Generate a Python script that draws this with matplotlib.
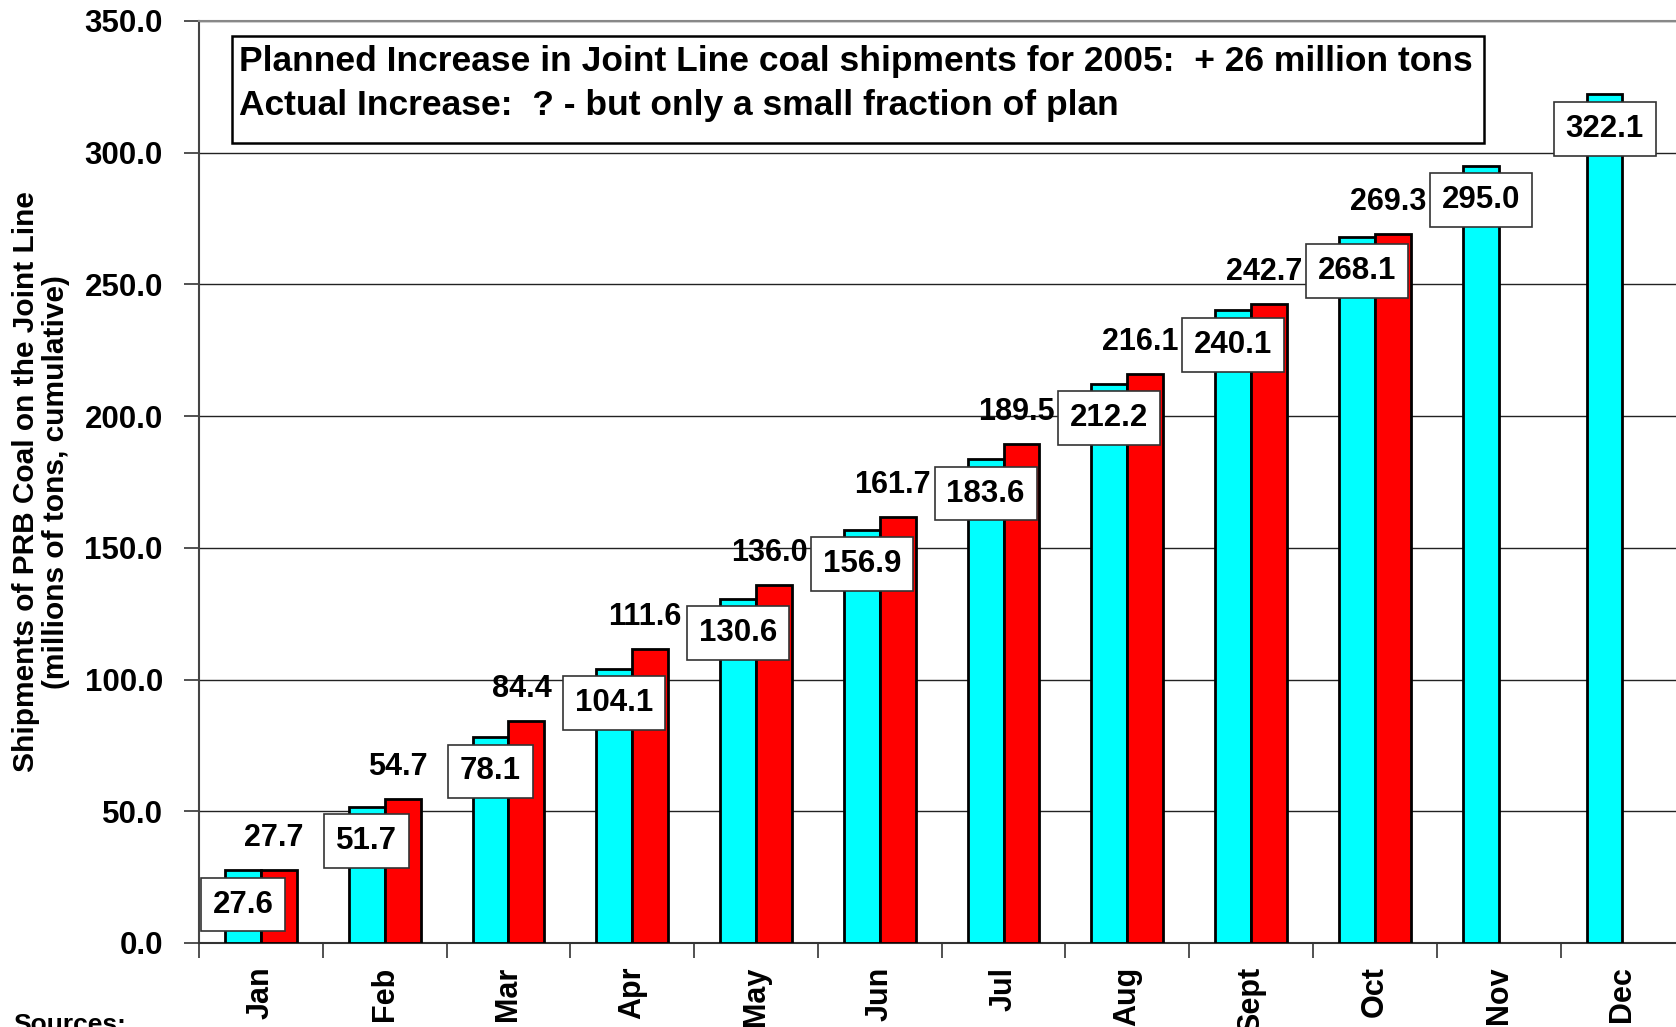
import matplotlib
matplotlib.use('Agg')
import matplotlib.pyplot as plt
import numpy as np

plt.rcParams['font.family'] = ['Liberation Sans', 'DejaVu Sans']
plt.rcParams['font.weight'] = 'bold'

# Data
months = ['Jan', 'Feb', 'Mar', 'Apr', 'May', 'Jun', 'Jul', 'Aug', 'Sept', 'Oct', 'Nov', 'Dec']
shipments_2004 = [27.6, 51.7, 78.1, 104.1, 130.6, 156.9, 183.6, 212.2, 240.1, 268.1, 295.0, 322.1]
shipments_2005 = [27.7, 54.7, 84.4, 111.6, 136.0, 161.7, 189.5, 216.1, 242.7, 269.3]
note_lines = ['Planned Increase in Joint Line coal shipments for 2005:  + 26 million tons',
              'Actual Increase:  ? - but only a small fraction of plan']

fig = plt.figure(figsize=(16.76, 10.27), dpi=100)
ax = fig.add_axes([0.1187, 0.0818, 0.8863, 0.8978])

x = np.arange(len(months))
w = 0.29

ax.bar(x - w / 2, shipments_2004, width=w, color='#00FFFF', edgecolor='black', linewidth=2, zorder=3)
x2 = x[:len(shipments_2005)]
ax.bar(x2 + w / 2, shipments_2005, width=w, color='#FF0000', edgecolor='black', linewidth=2, zorder=3)

# Labels for cyan bars (boxed)
for xi, v in zip(x, shipments_2004):
    ax.text(xi - w / 2, v - 13.0, f'{v:.1f}', ha='center', va='center', fontsize=22.5,
            fontweight='bold', zorder=5,
            bbox=dict(boxstyle='square,pad=0.38', facecolor='white', edgecolor='#333333', linewidth=1.2))

# Labels for red bars
for xi, v in zip(x2, shipments_2005):
    ax.text(xi + w / 2 - 0.04, v + 12.0, f'{v:.1f}', ha='center', va='center', fontsize=22,
            fontweight='bold', zorder=4)

ax.set_xlim(-0.5, len(months) - 0.5)
ax.set_ylim(0, 350)
ax.set_yticks(np.arange(0, 351, 50))
ax.set_yticklabels([f'{t:.1f}' for t in np.arange(0, 351, 50)], fontsize=22.5, fontweight='bold')
ax.yaxis.grid(True, color='#222222', linewidth=1.0, zorder=0)

ax.set_xticks(x)
ax.set_xticklabels(months, rotation=90, fontsize=22, fontweight='bold')
ax.tick_params(axis='x', which='major', length=0, pad=17)
ax.set_xticks(np.arange(-0.5, len(months), 1.0), minor=True)
ax.tick_params(axis='x', which='minor', length=11, width=1.2, color='#333333', direction='out')
ax.tick_params(axis='y', length=11, width=1.2, color='#333333', pad=15)

ax.spines['top'].set_color('#888888')
ax.spines['top'].set_linewidth(1.5)
ax.spines['right'].set_visible(False)
ax.spines['left'].set_color('#444444')
ax.spines['left'].set_linewidth(1.5)
ax.spines['bottom'].set_color('#333333')
ax.spines['bottom'].set_linewidth(1.5)

ax.set_ylabel('Shipments of PRB Coal on the Joint Line\n(millions of tons, cumulative)',
              fontsize=21.5, fontweight='bold', linespacing=1.1)
ax.yaxis.set_label_coords(-0.087, 0.5)

# Note box
ax.add_patch(plt.Rectangle((0.0223, 0.868), 0.843, 0.116, transform=ax.transAxes,
                           facecolor='white', edgecolor='black', linewidth=1.8, zorder=6))
ax.text(0.0273, 0.956, note_lines[0], transform=ax.transAxes, ha='left', va='center',
        fontsize=25.5, fontweight='bold', zorder=7)
ax.text(0.0273, 0.908, note_lines[1], transform=ax.transAxes, ha='left', va='center',
        fontsize=25.5, fontweight='bold', zorder=7)

fig.text(0.008, 1 - 1013 / 1027, 'Sources:', ha='left', va='top', fontsize=19, fontweight='bold')

fig.savefig('out.png', dpi=100)
